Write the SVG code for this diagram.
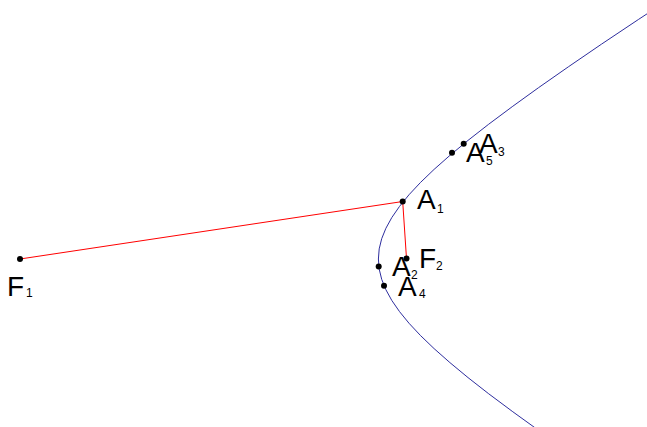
<svg xmlns="http://www.w3.org/2000/svg" width="647" height="427" viewBox="0 0 647 427">
<style>
.curve{fill:none;stroke:#2e2e9e;stroke-width:1}
.seg{fill:none;stroke:#ff0000;stroke-width:1}
.pt{fill:#000}
.lbl{font-family:"Liberation Sans",Arial,sans-serif;font-size:28px;fill:#000}
.sub{font-family:"Liberation Sans",Arial,sans-serif;font-size:12px;fill:#000}
</style>
<rect width="647" height="427" fill="#fff"/>
<g id="hyperbola">
<polyline class="curve" points="680.1,-7.9 638.7,19.3 601.5,44.15 568.3,66.86 538.6,87.63 512.2,106.7 488.7,124.23 468.0,140.42 449.9,155.42 434.1,169.39 420.5,182.46 409.0,194.76 399.5,206.42 391.8,217.56 385.9,228.27 381.7,238.68 379.2,248.89 378.4,259 379.2,269.11 381.7,279.32 385.9,289.73 391.8,300.44 399.5,311.58 409.0,323.24 420.5,335.54 434.1,348.61 449.9,362.58 468.0,377.58 488.7,393.77 512.2,411.3 538.6,430.37"/>
</g>
<g id="connectors">
<line class="seg" x1="20" y1="259" x2="402.7" y2="201.5"/>
<line class="seg" x1="402.7" y1="201.5" x2="406.5" y2="258.5"/>
</g>
<g id="F1"><circle class="pt" cx="20" cy="259" r="3"/><text class="lbl" x="7" y="296">F</text><text class="sub" x="26" y="297">1</text></g>
<g id="A1"><circle class="pt" cx="402.7" cy="201.5" r="3"/><text class="lbl" x="417" y="209">A</text><text class="sub" x="437" y="213">1</text></g>
<g id="F2"><circle class="pt" cx="406.5" cy="258.5" r="3"/><text class="lbl" x="419" y="268">F</text><text class="sub" x="436" y="270">2</text></g>
<g id="A2"><circle class="pt" cx="378.7" cy="266.5" r="3"/><text class="lbl" x="392" y="276">A</text><text class="sub" x="411" y="279">2</text></g>
<g id="A4"><circle class="pt" cx="384" cy="285.7" r="3"/><text class="lbl" x="398" y="296">A</text><text class="sub" x="419" y="298">4</text></g>
<g id="A5"><circle class="pt" cx="452" cy="152.7" r="3"/><text class="lbl" x="466" y="162">A</text><text class="sub" x="486" y="165">5</text></g>
<g id="A3"><circle class="pt" cx="463.7" cy="143.7" r="3"/><text class="lbl" x="479" y="153">A</text><text class="sub" x="498" y="156">3</text></g>
</svg>
